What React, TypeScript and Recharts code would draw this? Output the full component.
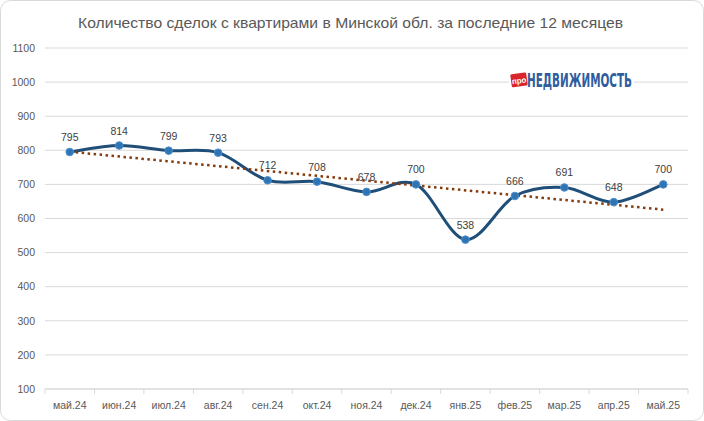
import { LineChart, Line, XAxis, YAxis, CartesianGrid, LabelList } from 'recharts';

const months = ['май.24', 'июн.24', 'июл.24', 'авг.24', 'сен.24', 'окт.24', 'ноя.24', 'дек.24', 'янв.25', 'фев.25', 'мар.25', 'апр.25', 'май.25'];
const deals = [795, 814, 799, 793, 712, 708, 678, 700, 538, 666, 691, 648, 700];
// dotted trend line, ends
const trendEnds = [796, 626];
const yTicks = [100, 200, 300, 400, 500, 600, 700, 800, 900, 1000, 1100];

const data = months.map((m, i) => ({
  month: m,
  deals: deals[i],
  trend: i === 0 ? trendEnds[0] : i === months.length - 1 ? trendEnds[1] : null,
}));

const W = 704;
const H = 421;
const PLOT_LEFT = 45;
const PLOT_RIGHT = 688;
const HALF_BAND = (PLOT_RIGHT - PLOT_LEFT) / months.length / 2;

// Excel-like smoothed line (Catmull-Rom as cubic beziers)
const excelSmooth = (context: any) => {
  let pts: number[][] = [];
  return {
    areaStart() {},
    areaEnd() {},
    lineStart() { pts = []; },
    point(x: number, y: number) { pts.push([+x, +y]); },
    lineEnd() {
      if (!pts.length) return;
      context.moveTo(pts[0][0], pts[0][1]);
      for (let i = 0; i < pts.length - 1; i++) {
        const p0 = pts[i - 1] || pts[i];
        const p1 = pts[i];
        const p2 = pts[i + 1];
        const p3 = pts[i + 2] || p2;
        context.bezierCurveTo(
          p1[0] + (p2[0] - p0[0]) / 6, p1[1] + (p2[1] - p0[1]) / 6,
          p2[0] - (p3[0] - p1[0]) / 6, p2[1] - (p3[1] - p1[1]) / 6,
          p2[0], p2[1],
        );
      }
    },
  };
};

const TICK_SIZE = 5;
const TICK_MARGIN = 8;

const MonthTick = (props: any) => {
  const { x, y, payload, index } = props;
  const axisY = y - TICK_SIZE - TICK_MARGIN;
  const last = index === months.length - 1;
  return (
    <g>
      <line x1={x - HALF_BAND} x2={x - HALF_BAND} y1={axisY} y2={axisY + TICK_SIZE} stroke="#d9d9d9" />
      {last && <line x1={x + HALF_BAND} x2={x + HALF_BAND} y1={axisY} y2={axisY + TICK_SIZE} stroke="#d9d9d9" />}
      <text x={x} y={y} dy="0.71em" textAnchor="middle" fill="#595959" fontSize={10.5}>
        {payload.value}
      </text>
    </g>
  );
};

const font = '"Liberation Sans", Arial, sans-serif';

export default function App() {
  return (
    <div style={{ position: 'relative', width: W, height: H, background: '#fff', fontFamily: font }}>
      <style>{'body{margin:0}'}</style>
      <LineChart width={W} height={H} data={data} margin={{ top: 48, right: W - PLOT_RIGHT, bottom: 2, left: 0 }}>
        <CartesianGrid vertical={false} stroke="#d9d9d9" />
        <XAxis
          dataKey="month"
          height={30}
          stroke="#d9d9d9"
          tickLine={false}
          tickSize={TICK_SIZE}
          tickMargin={TICK_MARGIN}
          tick={<MonthTick />}
          interval={0}
          padding={{ left: HALF_BAND, right: HALF_BAND }}
        />
        <YAxis
          width={PLOT_LEFT}
          domain={[100, 1100]}
          ticks={yTicks}
          axisLine={false}
          tickLine={false}
          tickMargin={4}
          tick={{ fill: '#595959', fontSize: 10.5, fontFamily: font }}
        />
        <Line
          dataKey="deals"
          type={excelSmooth as any}
          stroke="#1f4e79"
          strokeWidth={3}
          dot={{ r: 3.8, fill: '#2e75b6', stroke: '#4f8fcc', strokeWidth: 1 }}
          isAnimationActive={false}
        >
          <LabelList dataKey="deals" position="top" offset={11} fill="#404040" fontSize={10.5} fontFamily={font} />
        </Line>
        <Line
          dataKey="trend"
          type="linear"
          connectNulls
          stroke="#843c0c"
          strokeWidth={2.5}
          strokeDasharray="2.5 3.5"
          dot={false}
          isAnimationActive={false}
        />
      </LineChart>
      <svg width={W} height={H} style={{ position: 'absolute', left: 0, top: 0, pointerEvents: 'none' }}>
        <rect x={0.5} y={0.5} width={W - 1} height={H - 1} rx={10} fill="none" stroke="#d9d9d9" />
        <text x={78} y={28} fontSize={14.5} fill="#595959" fontFamily={font} textLength={545} lengthAdjust="spacingAndGlyphs">
          Количество сделок с квартирами в Минской обл. за последние 12 месяцев
        </text>
        <rect x={509} y={72} width={125} height={17} fill="#fff" />
        <g transform="rotate(-8 518 80)">
          <rect x={511} y={73.5} width={16} height={13} rx={1.5} fill="#d9252a" />
          <text x={519} y={83.5} textAnchor="middle" fontSize={8} fontWeight="bold" fill="#fff" fontFamily={font}>про</text>
        </g>
        <text
          x={527}
          y={87}
          fontSize={19}
          fontWeight="bold"
          fill="#2f5d9e"
          fontFamily='"Liberation Sans Narrow", "DejaVu Sans Condensed", sans-serif'
          textLength={105}
          lengthAdjust="spacingAndGlyphs"
        >
          НЕДВИЖИМОСТЬ
        </text>
      </svg>
    </div>
  );
}
